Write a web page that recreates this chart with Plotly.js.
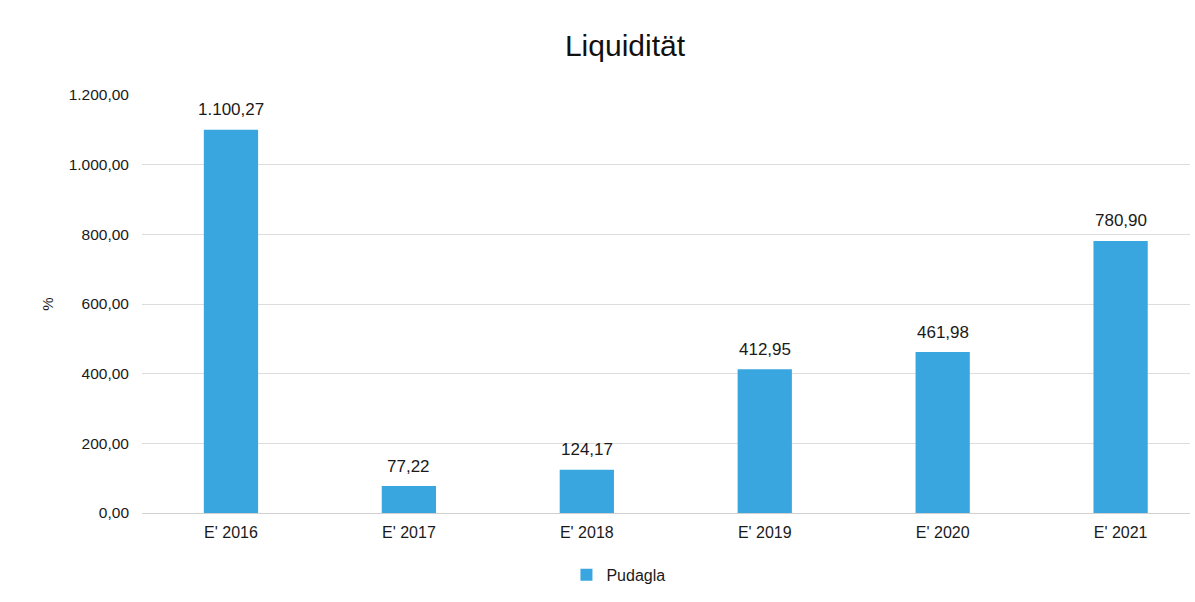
<!DOCTYPE html>
<html>
<head>
<meta charset="utf-8">
<script src="https://cdn.plot.ly/plotly-3.0.1.min.js"></script>
<style>html,body{margin:0;padding:0;background:#fff;}#chart{width:1195px;height:602px;}</style>
</head>
<body>
<div id="chart"></div>
<script>
const categories = ["E' 2016", "E' 2017", "E' 2018", "E' 2019", "E' 2020", "E' 2021"];
const values = [1100.27, 77.22, 124.17, 412.95, 461.98, 780.90];
const seriesName = "Pudagla";
const yTicks = [0, 200, 400, 600, 800, 1000, 1200];

const FONT = 'Liberation Sans, Arial, sans-serif';

const trace = {
  type: 'bar',
  x: categories,
  y: values,
  name: seriesName,
  marker: {color: '#3AA6E0'},
  showlegend: true
};

const fmt = v => v.toLocaleString('de-DE', {minimumFractionDigits: 2, maximumFractionDigits: 2});

const annotations = categories.map((c, i) => ({
  x: c, y: values[i], xref: 'x', yref: 'y',
  text: fmt(values[i]), showarrow: false,
  yanchor: 'middle', yshift: 20,
  font: {family: FONT, size: 17, color: '#1a1a1a'}
}));

const layout = {
  width: 1195, height: 602,
  separators: ',.',
  margin: {l: 142, r: 5, t: 95, b: 89},
  paper_bgcolor: '#fff', plot_bgcolor: '#fff',
  font: {family: FONT, size: 15, color: '#1a1a1a'},
  title: {text: 'Liquidität', x: 0.523, xanchor: 'center', y: 0.925, yanchor: 'middle',
          font: {size: 30, color: '#111', family: FONT}},
  bargap: 0.695,
  xaxis: {type: 'category', range: [-0.5, 5.39], showgrid: false, showline: false, zeroline: false,
          ticks: '', tickfont: {size: 16}, ticklabelstandoff: 8, automargin: false},
  yaxis: {range: [0, 1200], tickvals: yTicks, tickformat: ',.2f', gridcolor: '#dddddd', gridwidth: 1,
          zeroline: true, zerolinecolor: '#d0d0d0', showline: false, ticks: '', ticklabelstandoff: 12,
          tickfont: {size: 15.5},
          title: {text: '%', font: {size: 15}, standoff: 11}, automargin: false},
  annotations: annotations,
  showlegend: true,
  legend: {orientation: 'h', x: 0.405, xanchor: 'left', y: -0.148, yanchor: 'middle',
           font: {size: 16}, itemwidth: 30}
};

Plotly.newPlot('chart', [trace], layout, {displayModeBar: false, staticPlot: true});
</script>
</body>
</html>
